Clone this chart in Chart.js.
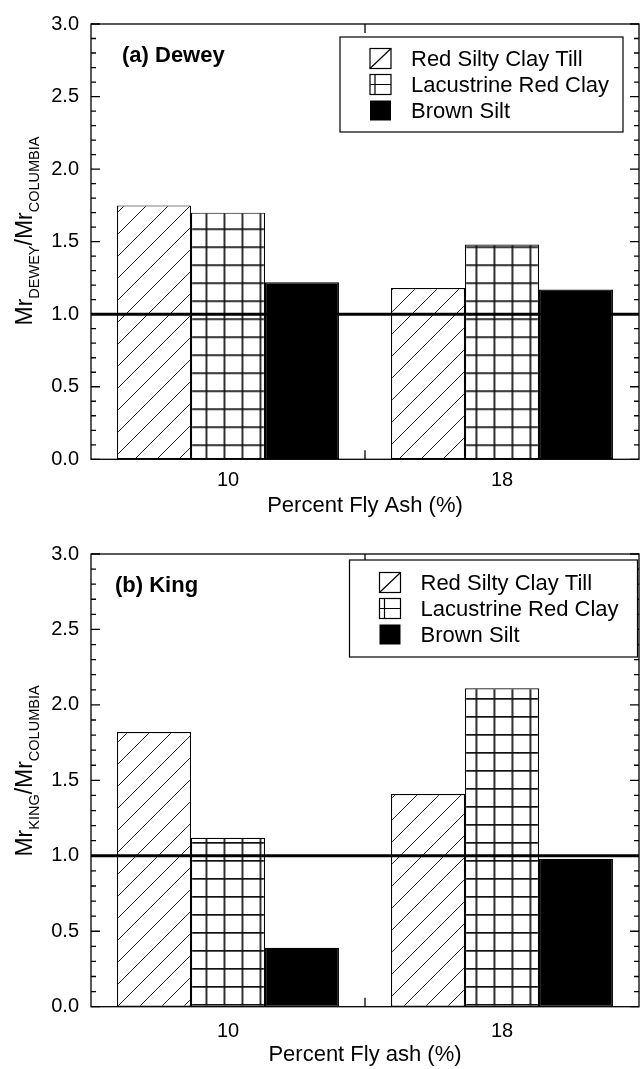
<!DOCTYPE html>
<html>
<head>
<meta charset="utf-8">
<script src="https://cdn.jsdelivr.net/npm/chart.js@4.4.0/dist/chart.umd.min.js"></script>
<style>
    html, body { margin: 0; padding: 0; background: #fff; overflow: hidden; }
    .panel { position: absolute; left: 0; width: 641px; }
    #panel-dewey { top: 0; height: 530px; }
    #panel-king { top: 530px; height: 539px; }
</style>
</head>
<body>
<div class="panel" id="panel-dewey"><canvas id="dewey-chart"></canvas></div>
<div class="panel" id="panel-king"><canvas id="king-chart"></canvas></div>
<script>
const flyAsh = ['10', '18'];
const soils = ['Red Silty Clay Till', 'Lacustrine Red Clay', 'Brown Silt'];
const yTickLabels = ['0.0', '0.5', '1.0', '1.5', '2.0', '2.5', '3.0'];

// Mr ratio against Columbia, Dewey site
const deweyTill = [1.75, 1.18];
const deweyLacustrine = [1.70, 1.48];
const deweySilt = [1.22, 1.17];

// Mr ratio against Columbia, King site
const kingTill = [1.82, 1.41];
const kingLacustrine = [1.12, 2.11];
const kingSilt = [0.39, 0.98];

const FONT = '"Liberation Sans", Arial, Helvetica, sans-serif';

function hatch() {
    const c = document.createElement('canvas');
    c.width = 22; c.height = 22;
    const g = c.getContext('2d');
    g.fillStyle = '#fff';
    g.fillRect(0, 0, 22, 22);
    g.strokeStyle = '#222';
    g.lineWidth = 1;
    g.beginPath();
    g.moveTo(-2, 24); g.lineTo(24, -2);
    g.stroke();
    return g.createPattern(c, 'repeat');
}

function grid(dx, dy) {
    const c = document.createElement('canvas');
    c.width = 18; c.height = 18;
    const g = c.getContext('2d');
    g.fillStyle = '#fff';
    g.fillRect(0, 0, 18, 18);
    g.fillStyle = '#111';
    g.fillRect(0, 0, 1.7, 18);
    g.fillRect(0, 0, 18, 1.7);
    const p = g.createPattern(c, 'repeat');
    p.setTransform(new DOMMatrix([1, 0, 0, 1, dx, dy]));
    return p;
}

function drawSwatch(ctx, i, x, y, w, h) {
    ctx.lineWidth = 1.2;
    ctx.strokeStyle = '#000';
    if (i === 2) {
        ctx.fillStyle = '#000';
        ctx.fillRect(x, y, w, h);
        return;
    }
    ctx.strokeRect(x, y, w, h);
    ctx.beginPath();
    if (i === 0) {
        ctx.moveTo(x, y + h); ctx.lineTo(x + w, y);
    } else {
        ctx.moveTo(x + 5, y); ctx.lineTo(x + 5, y + h);
        ctx.moveTo(x, y + h / 2); ctx.lineTo(x + w, y + h / 2);
    }
    ctx.stroke();
}

const panelDecor = {
    id: 'panelDecor',
    afterDatasetsDraw(chart, args, o) {
        const { ctx, chartArea: a, scales: { x, y } } = chart;
        ctx.save();

        // reference line at a ratio of 1.0
        const y1 = y.getPixelForValue(1);
        ctx.strokeStyle = '#000';
        ctx.lineWidth = 3;
        ctx.beginPath();
        ctx.moveTo(a.left, y1); ctx.lineTo(a.right, y1);
        ctx.stroke();

        // frame with inward ticks
        ctx.lineWidth = 1.3;
        ctx.strokeRect(a.left, a.top, a.right - a.left, a.bottom - a.top);
        ctx.beginPath();
        for (let v = 0; v <= 30; v++) {
            const py = y.getPixelForValue(v / 10);
            const len = v % 5 === 0 ? 9 : 5;
            ctx.moveTo(a.left, py); ctx.lineTo(a.left + len, py);
            ctx.moveTo(a.right, py); ctx.lineTo(a.right - len, py);
        }
        const mx = x.getPixelForValue(0.5);
        ctx.moveTo(mx, a.top); ctx.lineTo(mx, a.top + 9);
        ctx.moveTo(mx, a.bottom); ctx.lineTo(mx, a.bottom - 9);
        ctx.stroke();

        // legend
        const b = o.legend;
        ctx.fillStyle = '#fff';
        ctx.fillRect(b.left, b.top, b.width, b.height);
        ctx.lineWidth = 1.2;
        ctx.strokeRect(b.left, b.top, b.width, b.height);
        ctx.font = '22px ' + FONT;
        ctx.textBaseline = 'middle';
        chart.data.datasets.forEach((ds, i) => {
            const cy = b.top + b.height / 2 + (i - 1) * 26;
            drawSwatch(ctx, i, b.left + 30, cy - 10, 21, 20);
            ctx.fillStyle = '#000';
            ctx.fillText(ds.label, b.left + 71, cy + 1);
        });

        // panel name
        ctx.font = 'bold 22px ' + FONT;
        ctx.fillText(o.name, o.nameX, o.nameY);

        // rotated y label with subscripts
        const parts = [
            ['Mr', 23, 0], [o.site, 14.5, 7.5], ['/Mr', 23, 0], ['COLUMBIA', 14.5, 7.5]
        ];
        let total = 0;
        parts.forEach(p => { ctx.font = p[1] + 'px ' + FONT; p.push(ctx.measureText(p[0]).width); total += p[3]; });
        ctx.translate(31.5, o.labelY);
        ctx.rotate(-Math.PI / 2);
        ctx.textBaseline = 'alphabetic';
        let pos = -total / 2;
        parts.forEach(p => {
            ctx.font = p[1] + 'px ' + FONT;
            ctx.fillText(p[0], pos, p[2]);
            pos += p[3];
        });
        ctx.restore();
    }
};

function makeChart(id, till, lacustrine, silt, s) {
    const ctx = document.getElementById(id);
    return new Chart(ctx, {
        type: 'bar',
        data: {
            labels: flyAsh,
            datasets: [
                { label: soils[0], data: till, backgroundColor: hatch() },
                { label: soils[1], data: lacustrine, backgroundColor: grid(7.5, s.gridY) },
                { label: soils[2], data: silt, backgroundColor: '#000' }
            ].map(d => Object.assign(d, {
                borderColor: '#000',
                borderWidth: 1.2,
                borderSkipped: false,
                categoryPercentage: 0.81,
                barPercentage: 1.0
            }))
        },
        options: {
            responsive: true,
            maintainAspectRatio: false,
            animation: false,
            events: [],
            layout: { padding: { top: s.top, right: 2, left: 0, bottom: 0 } },
            plugins: {
                legend: { display: false },
                tooltip: { enabled: false },
                panelDecor: s.decor
            },
            scales: {
                x: {
                    grid: { display: false, drawTicks: false },
                    border: { display: false },
                    ticks: { color: '#000', font: { family: FONT, size: 20 }, padding: s.tickPad },
                    title: {
                        display: true,
                        text: s.xTitle,
                        color: '#000',
                        font: { family: FONT, size: 22 },
                        padding: { top: 0, bottom: s.titlePad }
                    },
                    afterFit: sc => { sc.height = s.xHeight; }
                },
                y: {
                    min: 0,
                    max: 3,
                    grid: { display: false, drawTicks: false },
                    border: { display: false },
                    ticks: {
                        stepSize: 0.5,
                        color: '#000',
                        font: { family: FONT, size: 20 },
                        padding: 12,
                        callback: v => yTickLabels[Math.round(v * 2)]
                    },
                    afterFit: sc => { sc.width = 91; }
                }
            }
        },
        plugins: [panelDecor]
    });
}

makeChart('dewey-chart', deweyTill, deweyLacustrine, deweySilt, {
    top: 15, xHeight: 70.7, tickPad: 9, titlePad: 11, gridY: 12.3,
    xTitle: 'Percent Fly Ash (%)',
    decor: {
        legend: { left: 340, top: 37, width: 283, height: 95 },
        name: '(a) Dewey', nameX: 122, nameY: 56,
        site: 'DEWEY', labelY: 231
    }
});

makeChart('king-chart', kingTill, kingLacustrine, kingSilt, {
    top: 17.3, xHeight: 62.3, tickPad: 13, titlePad: 1, gridY: 6,
    xTitle: 'Percent Fly ash (%)',
    decor: {
        legend: { left: 349.5, top: 30, width: 288, height: 97 },
        name: '(b) King', nameX: 115, nameY: 56,
        site: 'KING', labelY: 241
    }
});
</script>
</body>
</html>
